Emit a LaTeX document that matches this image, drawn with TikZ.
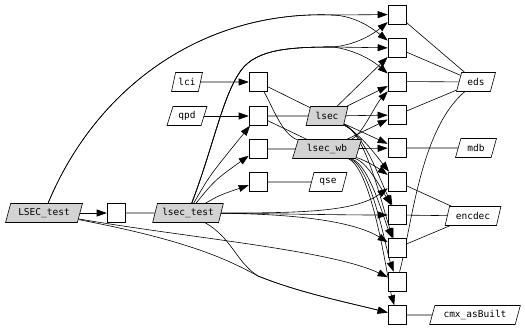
\documentclass[tikz,border=0pt]{standalone}
\usepackage{fontspec}
\setmonofont{DejaVu Sans Mono}
\usetikzlibrary{arrows.meta,shapes.geometric}
\definecolor{gray211}{RGB}{211,211,211}
\pgfdeclarelayer{bg}
\pgfsetlayers{bg,main}
\begin{document}
\begin{tikzpicture}[x=1pt,y=-1pt,
  every node/.style={font=\ttfamily\fontsize{9.5}{11}\selectfont},
  box/.style={draw, rectangle, fill=white, minimum width=18pt, minimum height=19pt, inner sep=0pt, line width=0.6pt},
  para/.style={draw, fill=white, trapezium, trapezium left angle=70, trapezium right angle=110, trapezium stretches=true, minimum height=19pt, inner sep=1pt, line width=0.6pt},
  grayp/.style={para, fill=gray211},
  arr/.style={-{Triangle[length=10pt,width=7pt]}},
  every path/.style={line width=0.6pt}
]
\useasboundingbox (0,0) rectangle (525,329);
% left
\node[grayp, minimum width=77pt] (LT) at (44,213) {LSEC\_test};
\node[box] (bL) at (116,213) {};
\node[grayp, minimum width=71pt] (lt) at (188,213) {lsec\_test};
\node[para, minimum width=31pt] (lci) at (187,82) {lci};
\node[para, minimum width=40pt] (qpd) at (187,116) {qpd};
\node[box] (a) at (258,82) {};
\node[box] (b) at (258,116) {};
\node[box] (c) at (258,149) {};
\node[box] (d) at (258,182) {};
\node[grayp, minimum width=42pt] (lsec) at (327,116) {lsec};
\node[grayp, minimum width=69pt] (lsecwb) at (327,149) {lsec\_wb};
\node[para, minimum width=38pt] (qse) at (328,182) {qse};
% right column
\node[box] (r1) at (397,14.5) {};
\node[box] (r2) at (397,48) {};
\node[box] (r3) at (397,81.5) {};
\node[box] (r4) at (397,115) {};
\node[box] (r5) at (397,148) {};
\node[box] (r6) at (397,181.5) {};
\node[box] (r7) at (397,215) {};
\node[box] (r8) at (397,248) {};
\node[box] (r9) at (397,281.5) {};
\node[box] (r10) at (397,315) {};
\node[para, minimum width=39pt] (eds) at (476,82) {eds};
\node[para, minimum width=41pt] (mdb) at (476,148) {mdb};
\node[para, minimum width=56pt] (encdec) at (473,216) {encdec};
\node[para, minimum width=91pt] (cmx) at (475,315) {cmx\_asBuilt};

\begin{pgfonlayer}{bg}
\draw[arr] (LT) -- (bL);
\draw (bL) -- (lt);
\draw[arr] (lci) -- (a);
\draw[arr] (qpd) -- (b);
\draw (a) -- (lsec);
\draw (b) -- (lsec);
\draw (a) .. controls (272,105) and (282,135) .. (lsecwb);
\draw (b) -- (lsecwb);
\draw (c) -- (lsecwb);
\draw (d) -- (qse);
\draw[arr] (lt) .. controls (210,175) .. (b);
\draw[arr] (lt) .. controls (215,180) .. (c);
\draw[arr] (lt) .. controls (220,195) .. (d);
% LSEC_test
\draw[arr] (LT) .. controls (95,90) and (200,10) .. (333,15) -- (r1);
\draw[arr] (LT) .. controls (95,90) and (200,10) .. (333,15) .. controls (355,16) and (372,28) .. (r2);
\draw[arr] (LT) .. controls (190,238) and (330,250) .. (r9);
\draw[arr] (LT) .. controls (185,240) and (225,258) .. (258,276) .. controls (300,293) and (350,303) .. (r10);
\draw[arr] (lt) .. controls (232,238) and (236,262) .. (258,276) .. controls (300,293) and (350,303) .. (r10);
% lsec_test over the top
\draw[arr] (lt) .. controls (212,150) and (222,100) .. (238,75) .. controls (252,50) and (285,47) .. (333,47) -- (r2);
\draw[arr] (lt) .. controls (212,150) and (222,100) .. (238,75) .. controls (252,50) and (285,47) .. (333,47) .. controls (355,45) and (372,35) .. (r1);
\draw[arr] (lt) .. controls (212,150) and (222,100) .. (238,75) .. controls (252,50) and (285,47) .. (333,47) .. controls (355,50) and (372,60) .. (r3);
% lsec_test right
\draw[arr] (lt) .. controls (300,213) and (355,212) .. (r6);
\draw[arr] (lt) .. controls (300,214) and (340,215) .. (r7);
\draw[arr] (lt) .. controls (300,214) and (355,222) .. (r8);
% lsec
\draw[arr] (lsec) -- (r2);
\draw[arr] (lsec) -- (r3);
\draw[arr] (lsec) -- (r4);
\draw[arr] (lsec) -- (r5);
\draw[arr] (lsec) .. controls (362,135) and (378,158) .. (r6);
\draw[arr] (lsec) .. controls (365,135) and (380,180) .. (r7);
\draw[arr] (lsec) .. controls (367,135) and (383,210) .. (r8);
% lsec_wb
\draw[arr] (lsecwb) .. controls (362,135) and (375,105) .. (r3);
\draw[arr] (lsecwb) -- (r4);
\draw[arr] (lsecwb) -- (r5);
\draw[arr] (lsecwb) .. controls (365,160) and (378,168) .. (r6);
\draw[arr] (lsecwb) .. controls (368,163) and (382,190) .. (r7);
\draw[arr] (lsecwb) .. controls (370,166) and (384,220) .. (r8);
\draw[arr] (lsecwb) .. controls (372,168) and (386,250) .. (r9);
\draw[arr] (lsecwb) .. controls (373,170) and (388,283) .. (r10);
% right side
\draw (r1) -- (eds);
\draw (r2) -- (eds);
\draw (r3) -- (eds);
\draw (r4) -- (eds);
\draw (eds) .. controls (420,130) and (412,225) .. (r9);
\draw (r5) -- (mdb);
\draw (r6) -- (encdec);
\draw (r7) -- (encdec);
\draw (r8) -- (encdec);
\draw (r10) -- (cmx);
\end{pgfonlayer}
\end{tikzpicture}
\end{document}
